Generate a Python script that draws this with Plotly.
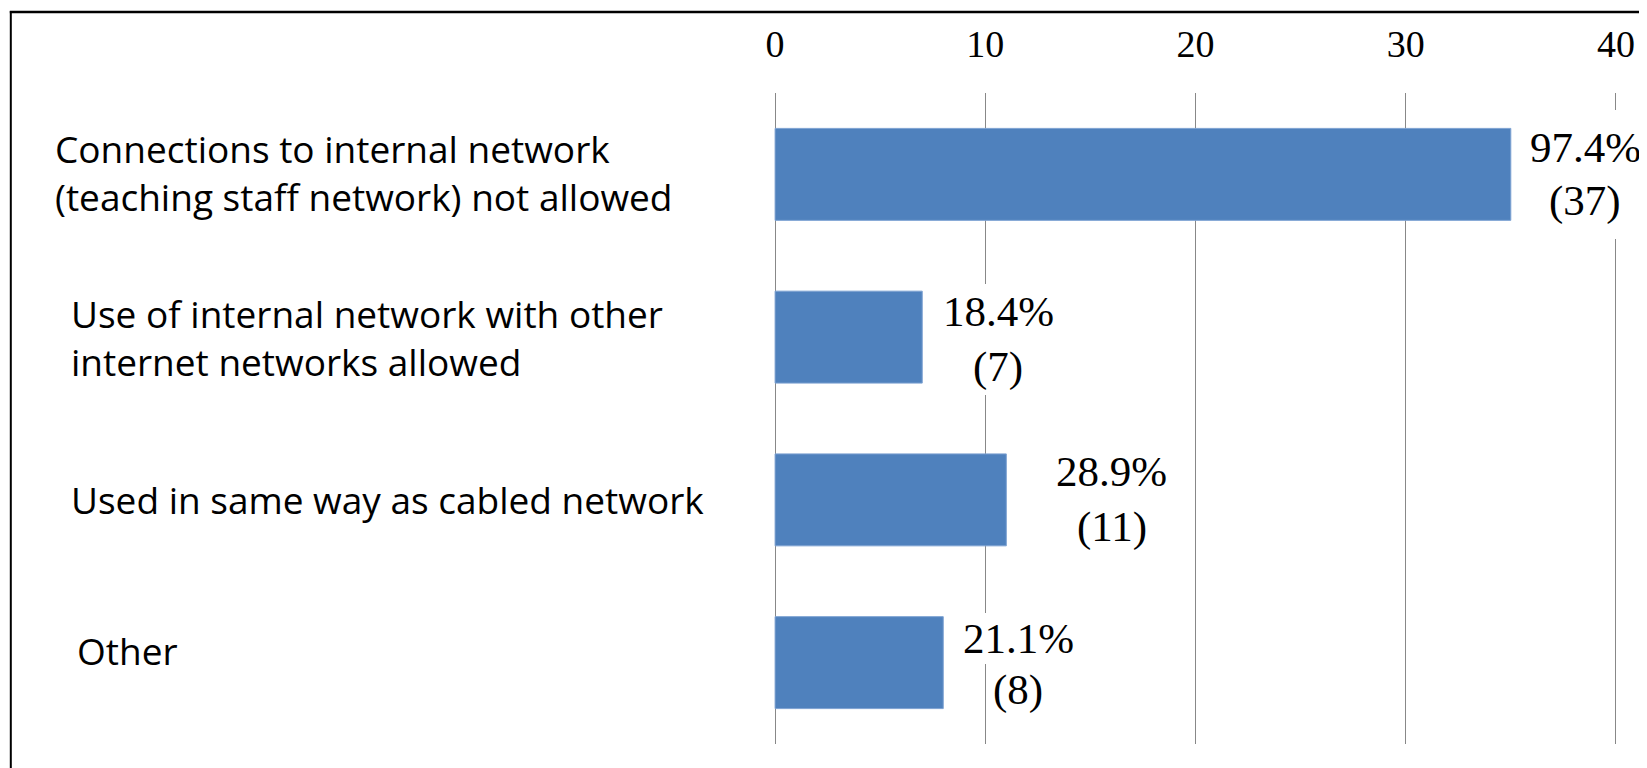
import plotly.graph_objects as go

# ---- data ----
categories = [
    "Connections to internal network<br>(teaching staff network) not allowed",
    "Use of internal network with other<br>internet networks allowed",
    "Used in same way as cabled network",
    "Other",
]
bar_values = [35, 7, 11, 8]
percent_labels = ["97.4%", "18.4%", "28.9%", "21.1%"]
count_labels = ["37", "7", "11", "8"]
x_ticks = [0, 10, 20, 30, 40]

# ---- layout / style constants (figure pixels; page adds an 8px body margin) ----
W, H = 1639, 760
ML, MR, MT, MB = 765, 27, 85, 24
PW, PH = W - ML - MR, H - MT - MB

cat_label_left = [43, 59, 59, 65]        # left edge of category text
cat_label_yshift = [2, 0, 0, 12]
value_label_dx = [74.5, 76, 105.5, 75]   # bar end -> centre of value label
pct_yshift = [27, 26, 28, 24]
cnt_yshift = [-27, -30, -27, -27]
value_label_pad = [14, 4, 4, 2]

BAR_COLOR = "#4F81BD"
GRID_COLOR = "#888888"
SERIF = "Liberation Serif"
SANS = "Open Sans"


def paper_x(px):
    return (px - ML) / PW


def paper_y(py):
    return (H - MB - py) / PH


fig = go.Figure()
fig.add_trace(go.Bar(
    x=bar_values,
    y=list(range(len(categories))),
    orientation="h",
    marker=dict(color=BAR_COLOR, line=dict(color="#7DA2D2", width=1)),
    hoverinfo="skip",
))

annotations = []
for i, cat in enumerate(categories):
    annotations.append(dict(
        xref="paper", yref="y",
        x=paper_x(cat_label_left[i]), y=i,
        xanchor="left", yanchor="middle", align="left",
        text=cat, showarrow=False,
        yshift=cat_label_yshift[i],
        font=dict(family=SANS, size=37, color="black"),
    ))
    for txt, ys in ((percent_labels[i], pct_yshift[i]),
                    (f"({count_labels[i]})", cnt_yshift[i])):
        annotations.append(dict(
            xref="x", yref="y",
            x=bar_values[i], y=i,
            xanchor="center", yanchor="middle", align="center",
            text=txt, showarrow=False,
            xshift=value_label_dx[i], yshift=ys,
            bgcolor="white", borderpad=value_label_pad[i], borderwidth=0,
            font=dict(family=SERIF, size=43, color="black"),
        ))

shapes = [
    dict(type="line", xref="paper", yref="paper",
         x0=paper_x(0), x1=paper_x(W + 5), y0=paper_y(4), y1=paper_y(4),
         line=dict(color="black", width=2.5)),
    dict(type="line", xref="paper", yref="paper",
         x0=paper_x(1), x1=paper_x(1), y0=paper_y(3), y1=paper_y(H + 5),
         line=dict(color="black", width=2)),
]

fig.update_layout(
    width=W, height=H,
    margin=dict(l=ML, r=MR, t=MT, b=MB),
    paper_bgcolor="white", plot_bgcolor="white",
    showlegend=False,
    bargap=0.435,
    annotations=annotations,
    shapes=shapes,
    xaxis=dict(
        side="top", range=[-0.1, 40.1], tickvals=x_ticks,
        ticktext=[str(v) for v in x_ticks],
        showgrid=True, gridcolor=GRID_COLOR, gridwidth=1,
        zeroline=True, zerolinecolor=GRID_COLOR, zerolinewidth=1,
        showline=False, ticks="",
        ticklabelstandoff=27,
        tickfont=dict(family=SERIF, size=38, color="black"),
    ),
    yaxis=dict(
        range=[3.5, -0.5], showticklabels=False, showgrid=False,
        zeroline=False, showline=False, ticks="",
    ),
)

fig.write_html("out.html")
